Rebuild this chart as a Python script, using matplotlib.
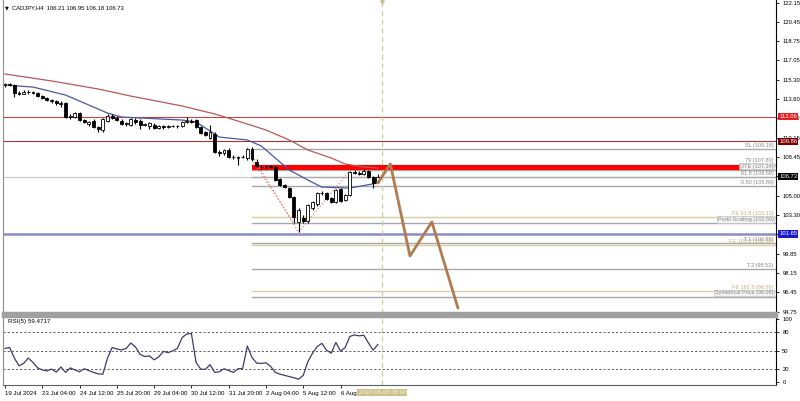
import matplotlib
matplotlib.use("Agg")
import matplotlib.pyplot as plt
import matplotlib.transforms as mtransforms
from matplotlib.patches import Rectangle
import numpy as np

plt.rcParams['font.family'] = ['Liberation Sans', 'DejaVu Sans']

# ------------------------ Data (CADJPY H4) ------------------------
opens = [114.86, 114.95, 114.86, 114.15, 114.10, 114.24, 114.20, 114.15, 113.88, 113.71,
         113.53, 113.44, 113.17, 113.25, 112.02, 112.00, 112.37, 111.75, 111.40, 111.65,
         111.13, 110.90, 111.70, 112.10, 111.95, 111.70, 111.40, 111.35, 111.75, 111.65,
         111.30, 111.22, 111.30, 111.05, 111.20, 111.10, 111.22, 111.20, 111.25, 111.60,
         111.70, 111.75, 111.15, 110.65, 110.20, 110.50, 108.95, 108.80, 109.05, 108.50,
         108.35, 108.50, 108.35, 109.20, 108.00, 107.60, 107.55, 107.60, 107.55, 106.50,
         105.95, 105.75, 104.90, 102.70, 103.05, 102.75, 103.95, 104.30, 105.25, 105.30,
         104.80, 104.50, 105.60, 104.65, 105.10, 107.15, 107.05, 106.95, 107.20, 106.70,
         106.21]
highs = [115.04, 115.04, 114.95, 114.33, 114.42, 114.42, 114.33, 114.24, 113.97, 113.80,
         113.62, 113.53, 113.40, 113.35, 112.25, 112.45, 112.50, 111.85, 111.70, 111.80,
         111.25, 111.90, 112.25, 112.30, 112.10, 111.85, 111.55, 111.90, 111.95, 111.80,
         111.50, 111.55, 111.45, 111.30, 111.30, 111.30, 111.35, 111.30, 111.70, 112.05,
         111.85, 111.85, 111.25, 110.80, 111.30, 110.65, 109.10, 109.20, 109.30, 108.65,
         108.60, 108.65, 109.30, 109.35, 108.25, 107.80, 107.75, 107.80, 107.70, 106.60,
         106.05, 105.85, 105.00, 103.90, 103.30, 104.30, 104.55, 105.35, 105.45, 105.40,
         104.90, 105.65, 105.70, 105.20, 107.25, 107.35, 107.25, 107.40, 107.30, 106.80,
         106.95]
lows = [114.68, 114.77, 113.80, 113.97, 114.06, 114.06, 114.06, 113.80, 113.62, 113.44,
        113.26, 113.08, 112.95, 111.90, 111.85, 111.90, 111.70, 111.45, 111.25, 111.05,
        110.65, 110.65, 111.55, 111.80, 111.65, 111.30, 111.25, 111.25, 111.40, 110.95,
        111.20, 110.95, 111.00, 110.95, 111.00, 111.05, 111.10, 111.05, 111.15, 111.50,
        111.50, 111.05, 110.50, 110.30, 110.05, 108.80, 108.60, 108.65, 108.40, 108.30,
        107.75, 108.35, 108.20, 108.15, 107.55, 107.40, 107.40, 107.45, 106.35, 105.90,
        105.70, 104.85, 102.60, 101.80, 102.60, 102.60, 103.80, 104.15, 105.10, 104.65,
        104.40, 104.40, 104.50, 104.55, 105.00, 106.95, 106.85, 106.85, 106.60, 105.70,
        106.18]
closes = [114.95, 114.86, 114.15, 114.10, 114.24, 114.20, 114.15, 113.88, 113.71, 113.53,
          113.44, 113.26, 113.30, 112.02, 112.10, 112.37, 111.75, 111.55, 111.60, 111.13,
          110.95, 111.84, 112.15, 111.95, 111.75, 111.40, 111.45, 111.80, 111.55, 111.30,
          111.40, 111.48, 111.05, 111.20, 111.10, 111.22, 111.20, 111.25, 111.60, 111.70,
          111.62, 111.15, 110.60, 110.40, 110.65, 108.90, 108.80, 109.05, 108.50, 108.45,
          108.50, 108.45, 109.20, 108.25, 107.65, 107.55, 107.60, 107.65, 106.45, 106.00,
          105.80, 104.90, 103.15, 103.75, 102.75, 104.20, 104.45, 105.25, 105.30, 104.75,
          104.50, 105.55, 104.60, 105.10, 107.15, 107.05, 107.00, 107.25, 106.70, 106.15,
          106.73]

rsi_values = [53.3, 54.8, 38.1, 25.7, 29.5, 38.1, 31.0, 22.4, 19.1, 17.6,
              20.5, 15.7, 23.8, 15.2, 22.4, 19.1, 16.2, 21.0, 18.1, 15.2,
              12.9, 12.4, 38.1, 54.8, 52.4, 51.0, 53.3, 61.9, 55.7, 43.8,
              40.5, 41.4, 35.2, 40.0, 48.6, 46.7, 49.5, 53.3, 70.5, 76.2,
              77.1, 31.0, 20.5, 20.0, 27.6, 15.2, 16.2, 21.0, 18.1, 15.2,
              21.0, 21.4, 57.1, 39.0, 30.0, 29.5, 30.5, 24.8, 15.2, 12.4,
              10.5, 8.6, 6.7, 4.3, 10.5, 32.4, 45.7, 56.2, 61.4, 50.5,
              45.7, 62.9, 49.0, 54.8, 72.4, 74.8, 73.3, 74.3, 61.9, 50.5,
              59.5]

# moving averages at a few bars
ma_fast_bars = [0, 6, 13, 22, 25, 38, 41, 46, 52, 55, 61, 65, 68, 74, 80]
ma_fast_vals = [114.86, 114.68, 113.97, 112.37, 112.02, 111.75, 111.58, 110.24, 109.98,
                109.45, 107.31, 106.42, 105.80, 105.71, 106.16]
ma_slow_bars = [0, 10, 20, 27, 38, 45, 50, 56, 61, 65, 70, 73, 77, 80]
ma_slow_vals = [115.84, 115.22, 114.51, 113.88, 113.00, 112.29, 111.66, 110.87, 109.98,
                109.09, 108.38, 107.85, 107.58, 107.49]

# projected path
proj_bars = [80, 82.7, 86.9, 91.6, 97.2]
proj_vals = [106.16, 107.85, 99.68, 102.70, 95.06]

# fibo / target levels
fib_labels = ['SL (109.18)', '79 (107.80)', 'OTE (107.34)', '61.8 (106.68)', '0.50 (105.89)',
              'FE 61.8 (103.13)', 'Profit Scalling (102.59)', 'T.1 (100.85)',
              'FE 100.0 (100.62)', 'T.2 (98.52)', 'FE 161.8 (96.56)', 'Symetrical Price (96.08)']
fib_levels = [109.18, 107.80, 107.34, 106.68, 105.89, 103.13, 102.59, 100.85, 100.62,
              98.52, 96.56, 96.08]
fib_tan = [False, False, False, False, False, True, False, False, True, False, True, False]
fib_boxed = [False, False, True, False, False, False, True, False, False, False, False, True]

ote_top, ote_bottom = 107.80, 107.34
swing_high_bar = 53
resistance_1 = 112.06
resistance_2 = 109.86
support = 101.65
last_price = 106.73

price_ticks = [122.15, 120.45, 118.75, 117.05, 115.30, 113.60, 111.90, 110.15, 108.45,
               106.75, 105.00, 103.30, 101.60, 99.85, 98.15, 96.45, 94.75]
time_ticks = [0, 8, 16, 24, 32, 40, 48, 56, 64, 72]
time_labels = ['19 Jul 2024', '23 Jul 04:00', '24 Jul 12:00', '25 Jul 20:00', '29 Jul 04:00',
               '30 Jul 12:00', '31 Jul 20:00', '2 Aug 04:00', '5 Aug 12:00', '6 Aug 20:00']
vline_bar = 81
vline_label = '2024.08.08 08:00'

# ------------------------ Figure ------------------------
fig = plt.figure(figsize=(8, 4.01), dpi=100)
ax = fig.add_axes([0.00375, 0.2195, 0.96625, 0.7805])
ax_rsi = fig.add_axes([0.00375, 0.0399, 0.96625, 0.172])

xmin, xmax = -0.43, 165.45
ax.set_xlim(xmin, xmax)
ax.set_ylim(94.62, 122.41)
ax_rsi.set_xlim(xmin, xmax)
ax_rsi.set_ylim(-4.8, 104.8)

x = np.arange(len(closes))
o = np.array(opens)
c = np.array(closes)

# horizontal levels
ax.axhline(resistance_1, color='#c04848', lw=0.8, zorder=1)
ax.axhline(resistance_2, color='#a03838', lw=0.8, zorder=1)
ax.axhline(support, color='#8c8cc8', lw=1.8, zorder=1)
ax.axhline(last_price, color='#c8c8c8', lw=0.8, zorder=1)

# OTE zone
ax.add_patch(Rectangle((swing_high_bar, ote_bottom), 158.4 - swing_high_bar, ote_top - ote_bottom,
                       color='#ff0000', lw=0, zorder=2))

for name, lev, tan, boxed in zip(fib_labels, fib_levels, fib_tan, fib_boxed):
    col = '#d8cfa0' if tan else '#a8a8a8'
    tcol = '#c0b078' if tan else '#888888'
    ax.plot([swing_high_bar, xmax], [lev, lev], color=col, lw=1, zorder=1)
    box = dict(facecolor='#f2f2f2', edgecolor='#c0c0c0', lw=0.5, pad=0.5) if boxed else None
    ax.text(164.9, lev + 0.1, name, fontsize=4, color=tcol, ha='right', va='bottom',
            bbox=box, zorder=6)

# moving averages
ax.plot(ma_slow_bars, ma_slow_vals, color='#b85858', lw=0.9, zorder=3)
ax.plot(ma_fast_bars, ma_fast_vals, color='#4a58a0', lw=0.9, zorder=3)

# fibo connectors
ax.plot([52, 63], [109.30, 101.80], color='#e08888', ls=':', lw=0.9, zorder=3)
ax.plot([53, 62], [108.25, 102.60], color='#e08888', ls=':', lw=0.9, zorder=3)
ax.plot([63, 74], [101.80, 107.25], color='#e08888', ls=':', lw=0.9, zorder=3)

# candles
ax.vlines(x, lows, highs, color='black', lw=0.8, zorder=4)
body_bottom = np.minimum(o, c)
body_height = np.maximum(np.abs(c - o), 0.03)
body_col = ['white' if cc >= oo else 'black' for oo, cc in zip(o, c)]
ax.bar(x, body_height, bottom=body_bottom, width=0.62, color=body_col,
       edgecolor='black', lw=0.6, zorder=5)

# projection
ax.plot(proj_bars, proj_vals, color='#b07b4f', lw=2, zorder=6, solid_capstyle='round')

# vertical time line
for a in (ax, ax_rsi):
    a.axvline(vline_bar, color='#d2c8a0', lw=0.9, ls=(0, (4, 3)), zorder=1)
ax.plot([vline_bar], [122.2], marker='v', ms=2.5, color='#c8c0a0', zorder=6)

# price axis
ax.yaxis.tick_right()
ax.set_yticks(price_ticks)
hidden = {106.75, 101.60}
ax.set_yticklabels(['' if v in hidden else f'{v:.2f}' for v in price_ticks])
ax.tick_params(axis='y', labelsize=4.2, length=2.5, width=0.6, pad=2, colors='black')
ax.set_xticks([])

trans = mtransforms.blended_transform_factory(ax.transAxes, ax.transData)
for val, fc in [(resistance_1, '#e02020'), (resistance_2, '#7a0000'),
                (last_price, '#000000'), (support, '#1a1ad0')]:
    ax.text(1.004, val, f'{val:.2f}', transform=trans, fontsize=4.2, color='white',
            ha='left', va='center', zorder=10, clip_on=False,
            bbox=dict(facecolor=fc, edgecolor='none', pad=0.9))

ax.spines['top'].set_visible(False)
ax.spines['left'].set_color('#909090')
ax.spines['bottom'].set_color('#a0a0a0')
ax.spines['bottom'].set_linewidth(2.5)
ax.spines['right'].set_color('black')
ax.spines['right'].set_linewidth(0.8)

# header
fig.text(0.006, 0.986, '\u25bc', fontsize=3.5, color='black', va='top', ha='left',
         family='DejaVu Sans')
fig.text(0.015, 0.988, 'CADJPY,H4  106.21 106.95 106.18 106.73', fontsize=4.2,
         va='top', ha='left')

# ------------------------ RSI ------------------------
ax_rsi.plot(x, rsi_values, color='#3c3c6c', lw=0.9, zorder=3)
for lev in (80, 50, 20):
    ax_rsi.axhline(lev, color='#404040', lw=0.6, ls=(0, (2.5, 2.5)), zorder=1)
ax_rsi.text(0.006, 0.95, 'RSI(5) 59.4717', transform=ax_rsi.transAxes, fontsize=4.5,
            va='top', ha='left')
ax_rsi.yaxis.tick_right()
ax_rsi.set_yticks([100, 80, 50, 20, 0])
ax_rsi.tick_params(axis='y', labelsize=4.2, length=2.5, width=0.6, pad=2)
ax_rsi.set_xticks(time_ticks)
ax_rsi.set_xticklabels(time_labels)
ax_rsi.tick_params(axis='x', labelsize=4.4, length=2.5, width=0.6, pad=1.5, direction='out')
for lbl in ax_rsi.get_xticklabels():
    lbl.set_ha('left')
ax_rsi.spines['top'].set_color('#a0a0a0')
ax_rsi.spines['top'].set_linewidth(2.5)
ax_rsi.spines['left'].set_color('#909090')
ax_rsi.spines['bottom'].set_color('#606060')
ax_rsi.spines['right'].set_color('black')
ax_rsi.spines['right'].set_linewidth(0.8)

ttrans = mtransforms.blended_transform_factory(ax_rsi.transData, ax_rsi.transAxes)
ax_rsi.text(vline_bar, -0.07, vline_label, transform=ttrans, fontsize=4.4, color='#f4f0e0',
            ha='center', va='top', zorder=10, clip_on=False,
            bbox=dict(facecolor='#cfc08a', edgecolor='none', pad=0.9))

fig.savefig('out.png', dpi=100, facecolor='white')
